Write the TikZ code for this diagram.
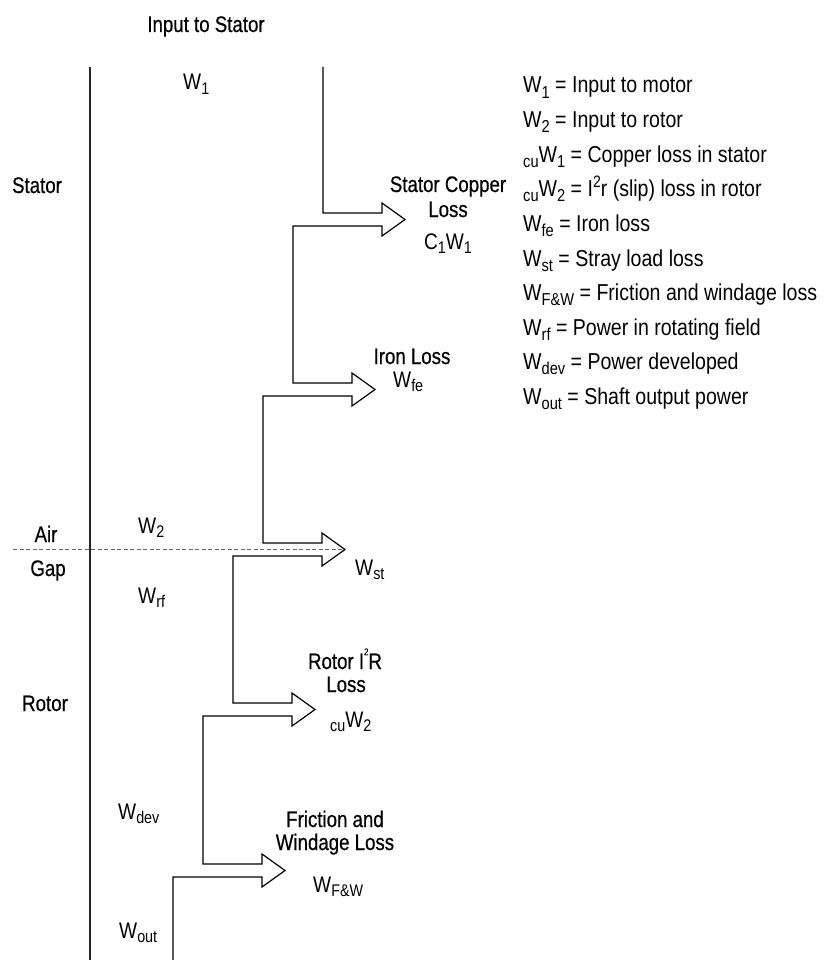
\documentclass[tikz,border=0pt]{standalone}
\usepackage{fontspec}
\setmainfont{Liberation Sans}[FakeStretch=0.85]
\newfontfamily\lblfont{Liberation Sans}[FakeStretch=0.83, FakeBold=0.5]
\usepackage{graphicx}
\newcommand\sbs[1]{\raisebox{-0.22em}{\scalebox{0.75}{#1}}}
\newcommand\sps[1]{\raisebox{0.42em}{\scalebox{0.72}{#1}}}
\newcommand\tsps[1]{\raisebox{0.62em}{\scalebox{0.42}{#1}}}
\begin{document}
\begin{tikzpicture}[x=1pt,y=-1pt,
  flow/.style={draw=black, line width=1.2pt, line join=miter},
  wall/.style={draw=black!85, line width=1.1pt},
  gapline/.style={draw=black!60, line width=1pt, dash pattern=on 4pt off 2.5pt},
  lbl/.style={inner sep=0pt, font=\lblfont\fontsize{22.5}{26}\selectfont},
  wlbl/.style={inner sep=0pt, anchor=base west, font=\fontsize{22.5}{26}\selectfont},
  leg/.style={inner sep=0pt, anchor=base west, font=\fontsize{23}{27}\selectfont}]
\useasboundingbox (0,0) rectangle (830,960);
\fill[white] (0,0) rectangle (830,960);

% named points
\coordinate (in) at (323,67);
\coordinate (out) at (173,960);
\coordinate (wallTop) at (90,67);
\coordinate (wallBot) at (90,960);
\coordinate (gapL) at (13,549.5);

% left boundary
\draw[wall] (wallTop) -- (wallBot);

% power flow band with loss arrows
\draw[flow] (in)
  foreach \u/\y/\n in {323/213/1,293/383/2,263/543/3,233/703/4,203/864/5} {
    -- (\u,\y) -- ++(59,0) -- ++(0,-10) -- ++(23,16.5) coordinate (tip\n)
    -- ++(-23,16.5) -- ++(0,-10) -- ({\u-30},{\y+13})
  } -- (out);

% air gap
\draw[gapline] (gapL) -- (tip3);

% labels
\node[lbl, anchor=base] (inp) at (206,32) {Input to Stator};
\node[wlbl] (w1) at (183,90) {W\sbs{1}};
\node[lbl, anchor=base] (stator) at (37,193) {Stator};
\node[lbl, anchor=base] (scl1) at (448,192) {Stator Copper};
\node[lbl, anchor=base] (scl2) at (448,217) {Loss};
\node[wlbl, anchor=base] (scl3) at (448,249) {C\sbs{1}W\sbs{1}};
\node[lbl, anchor=base] (il1) at (412,364) {Iron Loss};
\node[wlbl] (il2) at (393,387) {W\sbs{fe}};
\node[lbl, anchor=base] (air) at (46,542) {Air};
\node[lbl, anchor=base] (gap) at (48,576) {Gap};
\node[wlbl] (w2) at (138,533) {W\sbs{2}};
\node[wlbl] (wst) at (355,575) {W\sbs{st}};
\node[wlbl] (wrf) at (138,603) {W\sbs{rf}};
\node[lbl, anchor=base] (rl1) at (345,669) {Rotor I\tsps{2}R};
\node[lbl, anchor=base] (rl2) at (346,692) {Loss};
\node[wlbl] (rl3) at (330,727) {\sbs{cu}W\sbs{2}};
\node[lbl, anchor=base] (rotor) at (45,711) {Rotor};
\node[wlbl] (wdev) at (118,819) {W\sbs{dev}};
\node[lbl, anchor=base] (fw1) at (335,827) {Friction and};
\node[lbl, anchor=base] (fw2) at (335,850) {Windage Loss};
\node[wlbl] (fw3) at (313,892) {W\sbs{F\&W}};
\node[wlbl] (wout) at (119,938) {W\sbs{out}};

% legend
\node[leg] (k1) at (523,93.0) {W\sbs{1} = Input to motor};
\node[leg] (k2) at (523,127.6) {W\sbs{2} = Input to rotor};
\node[leg] (k3) at (523,162.2) {\sbs{cu}W\sbs{1} = Copper loss in stator};
\node[leg] (k4) at (523,196.8) {\sbs{cu}W\sbs{2} = I\sps{2}r (slip) loss in rotor};
\node[leg] (k5) at (523,231.4) {W\sbs{fe} = Iron loss};
\node[leg] (k6) at (523,266.0) {W\sbs{st} = Stray load loss};
\node[leg] (k7) at (523,300.6) {W\sbs{F\&W} = Friction and windage loss};
\node[leg] (k8) at (523,335.2) {W\sbs{rf} = Power in rotating field};
\node[leg] (k9) at (523,369.8) {W\sbs{dev} = Power developed};
\node[leg] (k10) at (523,404.4) {W\sbs{out} = Shaft output power};
\end{tikzpicture}
\end{document}
